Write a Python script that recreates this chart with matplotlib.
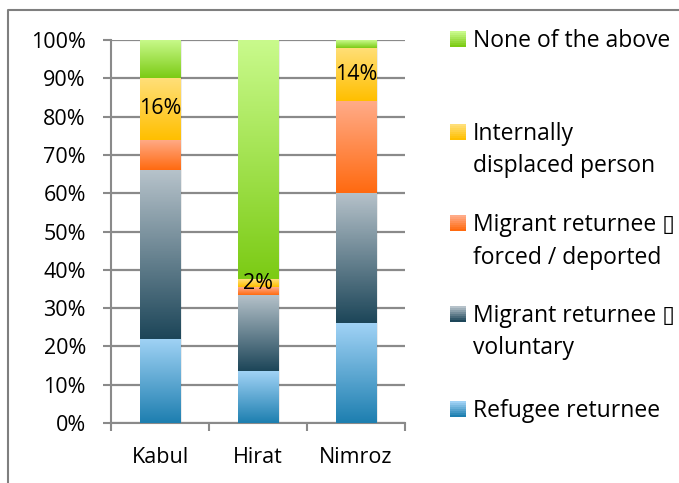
import numpy as np
import matplotlib.pyplot as plt
from matplotlib.patches import Rectangle
from matplotlib.colors import LinearSegmentedColormap

plt.rcParams['font.family'] = ['Open Sans', 'DejaVu Sans']
FS = 15.5

regions = ['Kabul', 'Hirat', 'Nimroz']
refugee = [22, 13.5, 26]
voluntary = [44, 20, 34]
forced = [8, 2, 24]
idp = [16, 2, 14]
none_above = [10, 62.5, 2]

series = [refugee, voluntary, forced, idp, none_above]
names = [['Refugee returnee'], ['Migrant returnee \u25af', 'voluntary'],
         ['Migrant returnee \u25af', 'forced / deported'],
         ['Internally', 'displaced person'], ['None of the above']]
# (top colour, bottom colour) for the gradient fills
grads = [('#a0d2f5', '#1e7fb0'), ('#b6c2ca', '#1d4659'), ('#ffab88', '#ff6a10'),
         ('#ffdf78', '#ffbf00'), ('#c9fa8c', '#7ccb15')]
labelled = {3: ['16%', '2%', '14%']}

fig = plt.figure(figsize=(6.79, 4.83), dpi=100)
ax = fig.add_axes([111 / 679, 1 - 423 / 483, 294 / 679, 383 / 483])

x = np.arange(len(regions))
bottom = np.zeros(len(regions))
for i, vals in enumerate(series):
    bars = ax.bar(x, vals, 0.41, bottom=bottom, color='none', zorder=3)
    cmap = LinearSegmentedColormap.from_list('g', [grads[i][1], grads[i][0]])
    for j, b in enumerate(bars):
        x0, y0 = b.get_x(), b.get_y()
        w, h = b.get_width(), b.get_height()
        # soft shadow
        ax.add_patch(Rectangle((x0 + 0.02, y0 - 0.3), w, h, color='#000000',
                               alpha=0.08, zorder=2, lw=0))
        ax.imshow(np.linspace(0, 1, 100).reshape(-1, 1), cmap=cmap, aspect='auto',
                  extent=(x0, x0 + w, y0, y0 + h), origin='lower', zorder=3)
        if i in labelled:
            ax.text(x0 + w / 2, y0 + h / 2, labelled[i][j], ha='center', va='center',
                    fontsize=FS, zorder=4)
    bottom += np.array(vals)

ax.set_xlim(-0.5, 2.5)
ax.set_ylim(0, 100)
ax.set_yticks(np.arange(0, 101, 10))
ax.set_yticklabels([f'{v}%' for v in range(0, 101, 10)], fontsize=FS)
ax.set_xticks(x)
ax.set_xticklabels(regions, fontsize=FS)
ax.set_xticks([-0.5, 0.5, 1.5, 2.5], minor=True)
ax.tick_params(axis='x', which='major', length=0, pad=17)
ax.tick_params(axis='x', which='minor', length=6, color='#8a8a8a', width=1.5)
ax.tick_params(axis='y', length=6, color='#8a8a8a', width=1.5, pad=12)
ax.grid(axis='y', color='#8a8a8a', lw=1.6, zorder=1)
ax.set_axisbelow(True)
for s in ['top', 'right']:
    ax.spines[s].set_visible(False)
for s in ['left', 'bottom']:
    ax.spines[s].set_color('#8a8a8a')
    ax.spines[s].set_linewidth(1.5)

# legend, entries top to bottom; first-line baselines in pixels
leg_base = [47, 140, 231, 322, 417]
for k, idx in enumerate([4, 3, 2, 1, 0]):
    yb = 1 - leg_base[k] / 483
    cm = LinearSegmentedColormap.from_list('g', [grads[idx][1], grads[idx][0]])
    for s in range(8):
        fig.patches.append(Rectangle((450 / 679, yb + s * 2 / 483), 16 / 679, 2 / 483,
                                     transform=fig.transFigure, color=cm(s / 7),
                                     lw=0))
    for ln, line in enumerate(names[idx]):
        fig.text(473 / 679, yb - ln * 32.5 / 483, line, ha='left', va='baseline',
                 fontsize=16.5, transform=fig.transFigure)

# outer frame
fig.add_artist(plt.Line2D([8 / 679, 8 / 679, 1], [0, 1 - 10 / 483, 1 - 10 / 483],
                          transform=fig.transFigure, color='#7f7f7f', lw=1.5))

fig.savefig('out.png', dpi=100)
